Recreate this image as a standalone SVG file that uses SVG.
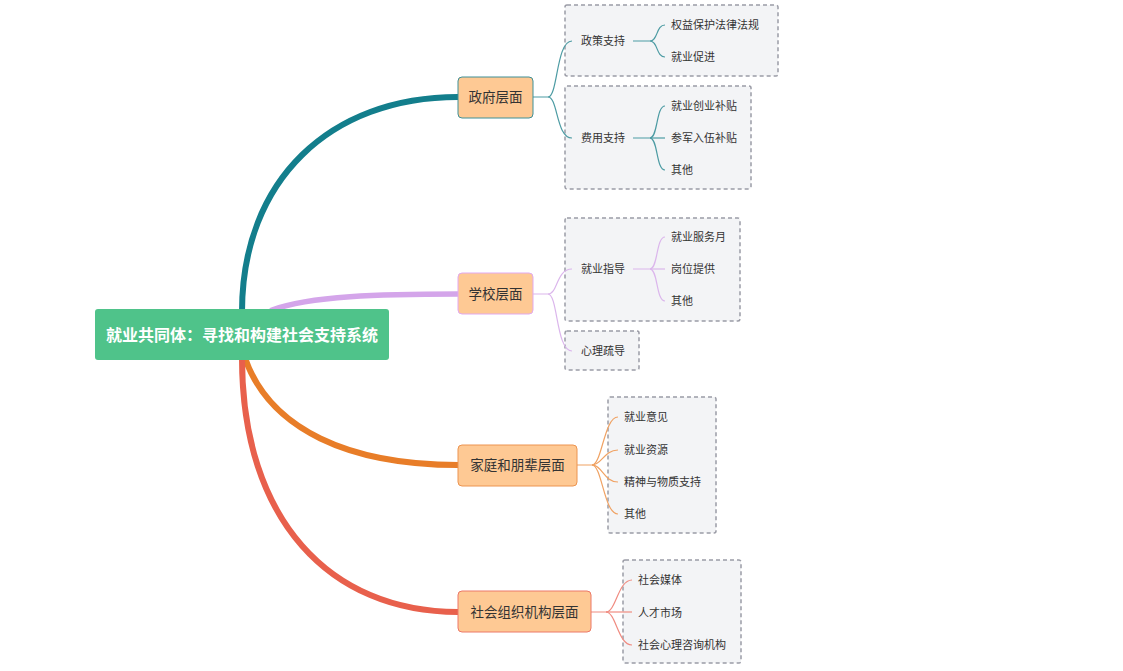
<svg xmlns="http://www.w3.org/2000/svg" width="1123" height="671" viewBox="0 0 1123 671">
<style>
.t{font-family:"Noto Sans CJK SC","Noto Sans",sans-serif;fill:#333;}
.s{font-size:11px;}
.m{font-size:13.5px;text-anchor:middle;}
.box{fill:#f3f4f6;stroke:#9b9ca6;stroke-width:1.5;stroke-dasharray:4 3;}
.n{fill:#fec994;stroke-width:1;}
.br{fill:none;stroke-linecap:round;}
.th{fill:none;stroke-width:1.2;}
</style>
<rect width="1123" height="671" fill="#fff"/>
<g id="frames">
<rect id="frame-policy" class="box" x="565" y="5" width="213" height="71" rx="2"/>
<rect id="frame-fee" class="box" x="565" y="86" width="186" height="103" rx="2"/>
<rect id="frame-guide" class="box" x="565" y="218" width="175" height="103" rx="2"/>
<rect id="frame-psy" class="box" x="565" y="331" width="74" height="39" rx="2"/>
<rect id="frame-family" class="box" x="608" y="397" width="108" height="136" rx="2"/>
<rect id="frame-social" class="box" x="623" y="560" width="118" height="103" rx="2"/>
</g>
<g id="connectors">
<path class="br" d="M242,312 C242,180 330,97 458,97" stroke="#137e8c" stroke-width="6"/>
<path class="br" d="M272,310 C310,296 380,294 458,294" stroke="#d4a5ea" stroke-width="5.5"/>
<path class="br" d="M245,358 C270,430 350,465 458,465" stroke="#e87d28" stroke-width="6"/>
<path class="br" d="M242,358 C242,520 330,612 458,612" stroke="#e8604c" stroke-width="6"/>
<g stroke="#4c9ba3" class="th">
<path d="M533,97 H548 C558,97 556,41 572,41"/>
<path d="M548,97 C558,97 556,138 572,138"/>
<path d="M633,41 H650 C658,41 656,25 665,25"/>
<path d="M650,41 C658,41 656,57 665,57"/>
<path d="M633,138 H650 C658,138 656,106 665,106"/>
<path d="M650,138 H665"/>
<path d="M650,138 C658,138 656,170 665,170"/>
</g>
<g stroke="#dbb6ec" class="th">
<path d="M533,294 H548 C558,294 556,269 572,269"/>
<path d="M548,294 C558,294 556,351 572,351"/>
<path d="M633,269 H650 C658,269 656,237 665,237"/>
<path d="M650,269 H665"/>
<path d="M650,269 C658,269 656,301 665,301"/>
</g>
<g stroke="#f0a263" class="th">
<path d="M577,465 H592 C602,465 604,417 618,417"/>
<path d="M592,465 C602,465 604,450 618,450"/>
<path d="M592,465 C602,465 604,482 618,482"/>
<path d="M592,465 C602,465 604,514 618,514"/>
</g>
<g stroke="#f08b80" class="th">
<path d="M591,612 H606 C616,612 618,580 632,580"/>
<path d="M606,612 H632"/>
<path d="M606,612 C616,612 618,645 632,645"/>
</g>
</g>
<g id="root">
<rect x="95" y="309" width="294" height="51" rx="3" fill="#4fc38a"/>
<text x="242" y="341" text-anchor="middle" font-family="'Noto Sans CJK SC',sans-serif" font-size="16" font-weight="bold" fill="#fff">就业共同体：寻找和构建社会支持系统</text>
</g>
<g id="gov">
<rect class="n" x="458" y="77" width="75" height="41" rx="4" stroke="#3f9097"/>
<text class="t m" x="495.5" y="102">政府层面</text>
</g>
<g id="school">
<rect class="n" x="458" y="273" width="75" height="41" rx="4" stroke="#e1a9f0"/>
<text class="t m" x="495.5" y="299">学校层面</text>
</g>
<g id="family">
<rect class="n" x="458" y="445" width="119" height="41" rx="4" stroke="#ec9450"/>
<text class="t m" x="517.5" y="470">家庭和朋辈层面</text>
</g>
<g id="social">
<rect class="n" x="458" y="591" width="133" height="41" rx="4" stroke="#ec7868"/>
<text class="t m" x="524.5" y="617">社会组织机构层面</text>
</g>
<g id="policy"><text class="t s" x="581" y="45">政策支持</text></g>
<g id="law"><text class="t s" x="671" y="29">权益保护法律法规</text></g>
<g id="promote"><text class="t s" x="671" y="61">就业促进</text></g>
<g id="fee"><text class="t s" x="581" y="142">费用支持</text></g>
<g id="subsidy"><text class="t s" x="671" y="110">就业创业补贴</text></g>
<g id="army"><text class="t s" x="671" y="142">参军入伍补贴</text></g>
<g id="fee-other"><text class="t s" x="671" y="174">其他</text></g>
<g id="guide"><text class="t s" x="581" y="273">就业指导</text></g>
<g id="month"><text class="t s" x="671" y="241">就业服务月</text></g>
<g id="post"><text class="t s" x="671" y="273">岗位提供</text></g>
<g id="guide-other"><text class="t s" x="671" y="305">其他</text></g>
<g id="psy"><text class="t s" x="581" y="355">心理疏导</text></g>
<g id="opinion"><text class="t s" x="624" y="421">就业意见</text></g>
<g id="resource"><text class="t s" x="624" y="454">就业资源</text></g>
<g id="spirit"><text class="t s" x="624" y="486">精神与物质支持</text></g>
<g id="family-other"><text class="t s" x="624" y="518">其他</text></g>
<g id="media"><text class="t s" x="638" y="584">社会媒体</text></g>
<g id="market"><text class="t s" x="638" y="617">人才市场</text></g>
<g id="counsel"><text class="t s" x="638" y="649">社会心理咨询机构</text></g>
</svg>
